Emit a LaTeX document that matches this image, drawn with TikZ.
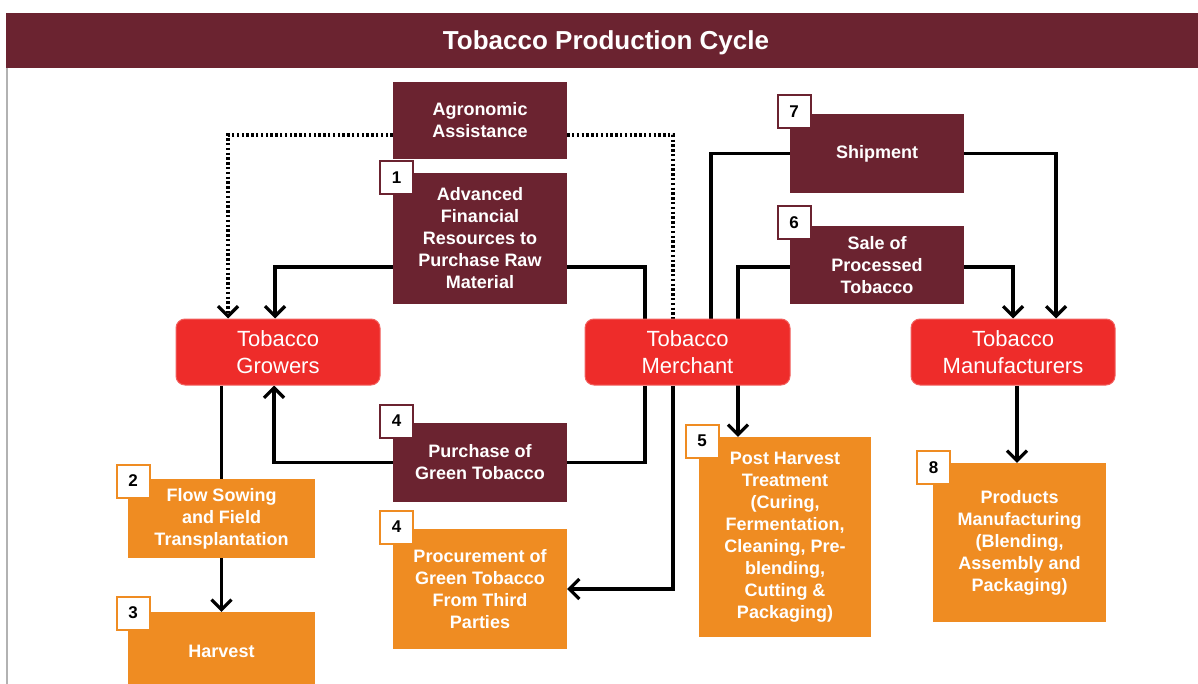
\documentclass[tikz,border=0pt]{standalone}
\usepackage{fontspec}
\setmainfont{Liberation Sans}
\usetikzlibrary{arrows.meta,backgrounds}
\definecolor{tmaroon}{HTML}{6B2330}
\definecolor{tred}{HTML}{EE2C2A}
\definecolor{torange}{HTML}{EF8C22}
\tikzset{
 mbox/.style={fill=tmaroon, text=white, font=\fontsize{18}{22}\selectfont\bfseries, align=center, inner sep=0pt},
 obox/.style={fill=torange, text=white, font=\fontsize{18}{22}\selectfont\bfseries, align=center, inner sep=0pt},
 rbox/.style={fill=tred, draw=tred!75!white, line width=1pt, rounded corners=9pt, text=white, font=\fontsize{22}{27}\selectfont, align=center, inner sep=0pt, minimum width=204pt, minimum height=66pt},
 badge/.style={fill=white, draw=#1, line width=2pt, minimum size=33pt, inner sep=0pt, font=\fontsize{17}{20}\selectfont\bfseries, text=black},
 conn/.style={line width=3.2pt, draw=black},
 arr/.style={-{Straight Barb[length=10pt,width=20pt]}},
 dots/.style={line width=3.2pt, draw=black, dash pattern=on 2.4pt off 2.4pt},
}
\begin{document}
\begin{tikzpicture}[x=1pt,y=-1pt]
\useasboundingbox (0,0) rectangle (1198,684);
% frame
\fill[tmaroon] (6,13) rectangle (1198,68);
\draw[gray!60, line width=1.5pt] (7,68) -- (7,684);
\node[text=white, font=\fontsize{26}{30}\selectfont\bfseries] (title) at (606,42.5) {Tobacco Production Cycle};
% maroon boxes
\node[mbox, minimum width=174pt, minimum height=77pt] (agro) at (480,120.5) {Agronomic\\Assistance};
\node[mbox, minimum width=174pt, minimum height=131pt] (adv) at (480,238.5) {Advanced\\Financial\\Resources to\\Purchase Raw\\Material};
\node[mbox, minimum width=174pt, minimum height=79pt] (ship) at (877,153.5) {Shipment};
\node[mbox, minimum width=174pt, minimum height=78pt] (sale) at (877,265) {Sale of\\Processed\\Tobacco};
\node[mbox, minimum width=174pt, minimum height=79pt] (purch) at (480,462.5) {Purchase of\\Green Tobacco};
% red boxes
\node[rbox] (grow) at (278,352) {Tobacco\\Growers};
\node[rbox, minimum width=205pt] (merch) at (687.5,352) {Tobacco\\Merchant};
\node[rbox] (manu) at (1013,352) {Tobacco\\Manufacturers};
% orange boxes
\node[obox, minimum width=174pt, minimum height=120pt] (proc) at (480,589) {Procurement of\\Green Tobacco\\From Third\\Parties};
\node[obox, minimum width=187pt, minimum height=79pt] (flow) at (221.5,518.5) {Flow Sowing\\and Field\\Transplantation};
\node[obox, minimum width=187pt, minimum height=78pt] (harv) at (221.5,651) {Harvest};
\node[obox, minimum width=172pt, minimum height=200pt] (post) at (785,537) {Post Harvest\\Treatment\\(Curing,\\Fermentation,\\Cleaning, Pre-\\blending,\\Cutting \&\\Packaging)};
\node[obox, minimum width=173pt, minimum height=159pt] (prod) at (1019.5,542.5) {Products\\Manufacturing\\(Blending,\\Assembly and\\Packaging)};
% badges
\node[badge=tmaroon] (b1) at (396.5,177.5) {1};
\node[badge=tmaroon] (b7) at (794,111.5) {7};
\node[badge=tmaroon] (b6) at (794,222.5) {6};
\node[badge=tmaroon] (b4a) at (396.5,421) {4};
\node[badge=torange] (b2) at (133,481) {2};
\node[badge=torange] (b3) at (133,613) {3};
\node[badge=torange] (b4b) at (396.5,527) {4};
\node[badge=torange] (b5) at (702,441) {5};
\node[badge=torange] (b8) at (933.5,467.5) {8};
% connectors
\begin{scope}[on background layer]
\draw[dots, arr] ([yshift=-14.5pt]agro.west) -| ([xshift=-50pt]grow.north);
\draw[dots] ([yshift=-14.5pt]agro.east) -| ([xshift=-14.5pt]merch.north);
\draw[conn, arr] ([yshift=-28.5pt]adv.west) -| ([xshift=-3pt]grow.north);
\draw[conn] ([xshift=-42.5pt]merch.north) |- ([yshift=-28.5pt]adv.east);
\draw[conn] ([xshift=23.5pt]merch.north) |- (ship.west);
\draw[conn, arr] (ship.east) -| ([xshift=43pt]manu.north);
\draw[conn, arr] ([yshift=-2pt]sale.west) -| ([xshift=-47pt]post.north);
\draw[conn, arr] ([yshift=-2pt]sale.east) -| (manu.north);
\draw[conn, arr] ([xshift=-14.5pt]merch.south) |- (proc.east);
\draw[conn] ([xshift=-42.5pt]merch.south) |- (purch.east);
\draw[conn, arr] (purch.west) -| ([xshift=-4pt]grow.south);
\draw[conn] (grow.south -| flow.north) -- (flow.north);
\draw[conn, arr] (flow.south) -- (harv.north);
\draw[conn, arr] ([xshift=4pt]manu.south) -- ([xshift=4pt]manu.south |- prod.north);
\end{scope}
\end{tikzpicture}
\end{document}
